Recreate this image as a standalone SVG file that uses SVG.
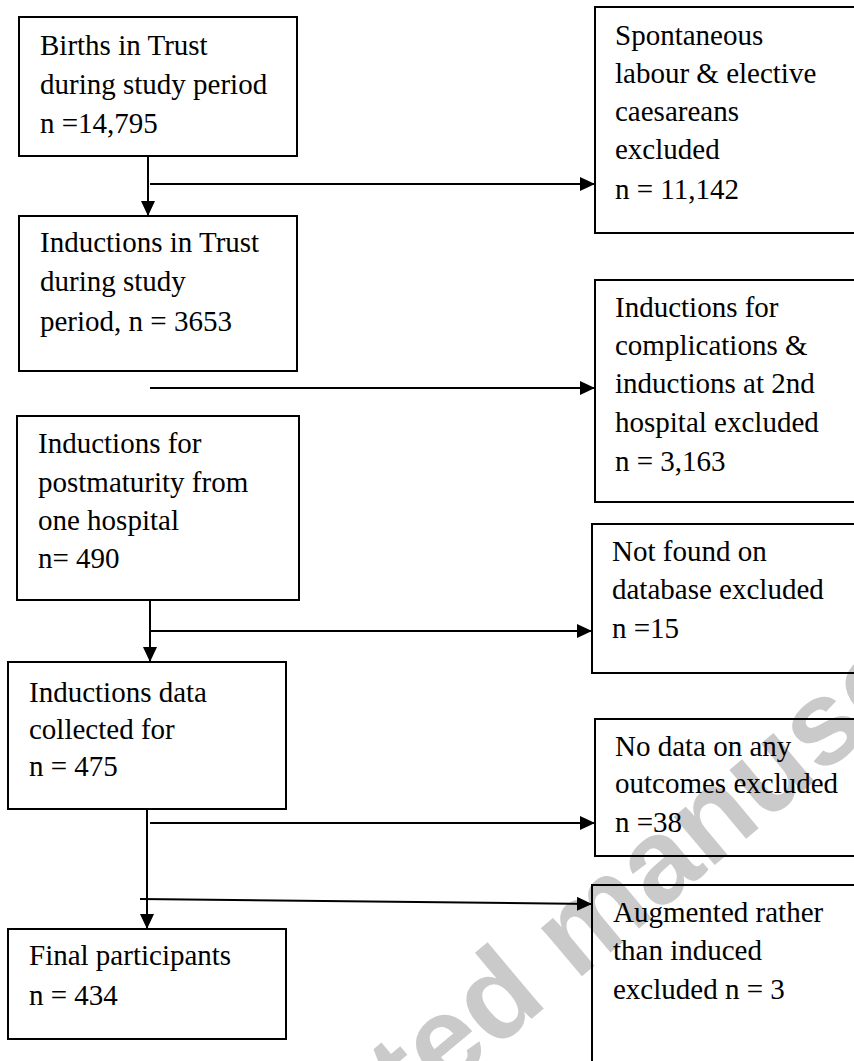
<svg xmlns="http://www.w3.org/2000/svg" width="854" height="1061" viewBox="0 0 854 1061">
  <style>
    .box { fill: none; stroke: #000; stroke-width: 2; }
    .lbl { font-family: "Liberation Serif", "Times New Roman", serif; font-size: 29px; fill: #000; }
    .conn { fill: none; stroke: #000; stroke-width: 2; }
    .wm { font-family: "Liberation Sans", Arial, sans-serif; font-weight: bold; font-size: 120px; fill: #cacaca; }
  </style>
  <defs>
    <marker id="arrow" markerUnits="userSpaceOnUse" markerWidth="15" markerHeight="14" viewBox="0 0 15 14" refX="15" refY="7" orient="auto">
      <path d="M0,0 L15,7 L0,14 Z" fill="#000"/>
    </marker>
  </defs>
  <rect width="854" height="1061" fill="#fff"/>

  <g id="watermark">
    <text class="wm" transform="translate(412,1119) rotate(-40)">ted manusc</text>
  </g>

  <g id="births">
    <rect class="box" x="19" y="17" width="278" height="139"/>
    <text class="lbl" x="40" y="55">Births in Trust</text>
    <text class="lbl" x="40" y="94">during study period</text>
    <text class="lbl" x="40" y="133">n =14,795</text>
  </g>

  <g id="inductions-trust">
    <rect class="box" x="19" y="216" width="278" height="155"/>
    <text class="lbl" x="40" y="252">Inductions in Trust</text>
    <text class="lbl" x="40" y="291">during study</text>
    <text class="lbl" x="40" y="331">period, n = 3653</text>
  </g>

  <g id="postmaturity">
    <rect class="box" x="17" y="416" width="282" height="184"/>
    <text class="lbl" x="38" y="453">Inductions for</text>
    <text class="lbl" x="38" y="492">postmaturity from</text>
    <text class="lbl" x="38" y="530">one hospital</text>
    <text class="lbl" x="38" y="568">n= 490</text>
  </g>

  <g id="data-collected">
    <rect class="box" x="8" y="662" width="278" height="147"/>
    <text class="lbl" x="29" y="702">Inductions data</text>
    <text class="lbl" x="29" y="739">collected for</text>
    <text class="lbl" x="29" y="776">n = 475</text>
  </g>

  <g id="final">
    <rect class="box" x="8" y="929" width="278" height="110"/>
    <text class="lbl" x="29" y="965">Final participants</text>
    <text class="lbl" x="29" y="1005">n = 434</text>
  </g>

  <g id="spontaneous">
    <rect class="box" x="595" y="7" width="280" height="226"/>
    <text class="lbl" x="615" y="45">Spontaneous</text>
    <text class="lbl" x="615" y="83">labour &amp; elective</text>
    <text class="lbl" x="615" y="121">caesareans</text>
    <text class="lbl" x="615" y="159">excluded</text>
    <text class="lbl" x="615" y="199">n = 11,142</text>
  </g>

  <g id="complications">
    <rect class="box" x="595" y="280" width="280" height="222"/>
    <text class="lbl" x="615" y="317">Inductions for</text>
    <text class="lbl" x="615" y="355">complications &amp;</text>
    <text class="lbl" x="615" y="393">inductions at 2nd</text>
    <text class="lbl" x="615" y="432">hospital excluded</text>
    <text class="lbl" x="615" y="471">n = 3,163</text>
  </g>

  <g id="not-found">
    <rect class="box" x="592" y="524" width="280" height="149"/>
    <text class="lbl" x="612" y="561">Not found on</text>
    <text class="lbl" x="612" y="599">database excluded</text>
    <text class="lbl" x="612" y="638">n =15</text>
  </g>

  <g id="no-data">
    <rect class="box" x="595" y="719" width="280" height="137"/>
    <text class="lbl" x="615" y="756">No data on any</text>
    <text class="lbl" x="615" y="793">outcomes excluded</text>
    <text class="lbl" x="615" y="832">n =38</text>
  </g>

  <g id="augmented">
    <rect class="box" x="592" y="885" width="280" height="200"/>
    <text class="lbl" x="613" y="922">Augmented rather</text>
    <text class="lbl" x="613" y="960">than induced</text>
    <text class="lbl" x="613" y="999">excluded n = 3</text>
  </g>

  <g id="connectors">
    <line class="conn" x1="148" y1="156" x2="148" y2="216" marker-end="url(#arrow)"/>
    <line class="conn" x1="150" y1="184" x2="595" y2="184" marker-end="url(#arrow)"/>
    <line class="conn" x1="150" y1="388" x2="595" y2="388" marker-end="url(#arrow)"/>
    <line class="conn" x1="150" y1="600" x2="150" y2="662" marker-end="url(#arrow)"/>
    <line class="conn" x1="150" y1="631" x2="592" y2="631" marker-end="url(#arrow)"/>
    <line class="conn" x1="147" y1="809" x2="147" y2="929" marker-end="url(#arrow)"/>
    <line class="conn" x1="150" y1="823" x2="595" y2="823" marker-end="url(#arrow)"/>
    <line class="conn" x1="140" y1="899" x2="592" y2="904" marker-end="url(#arrow)"/>
  </g>
</svg>
